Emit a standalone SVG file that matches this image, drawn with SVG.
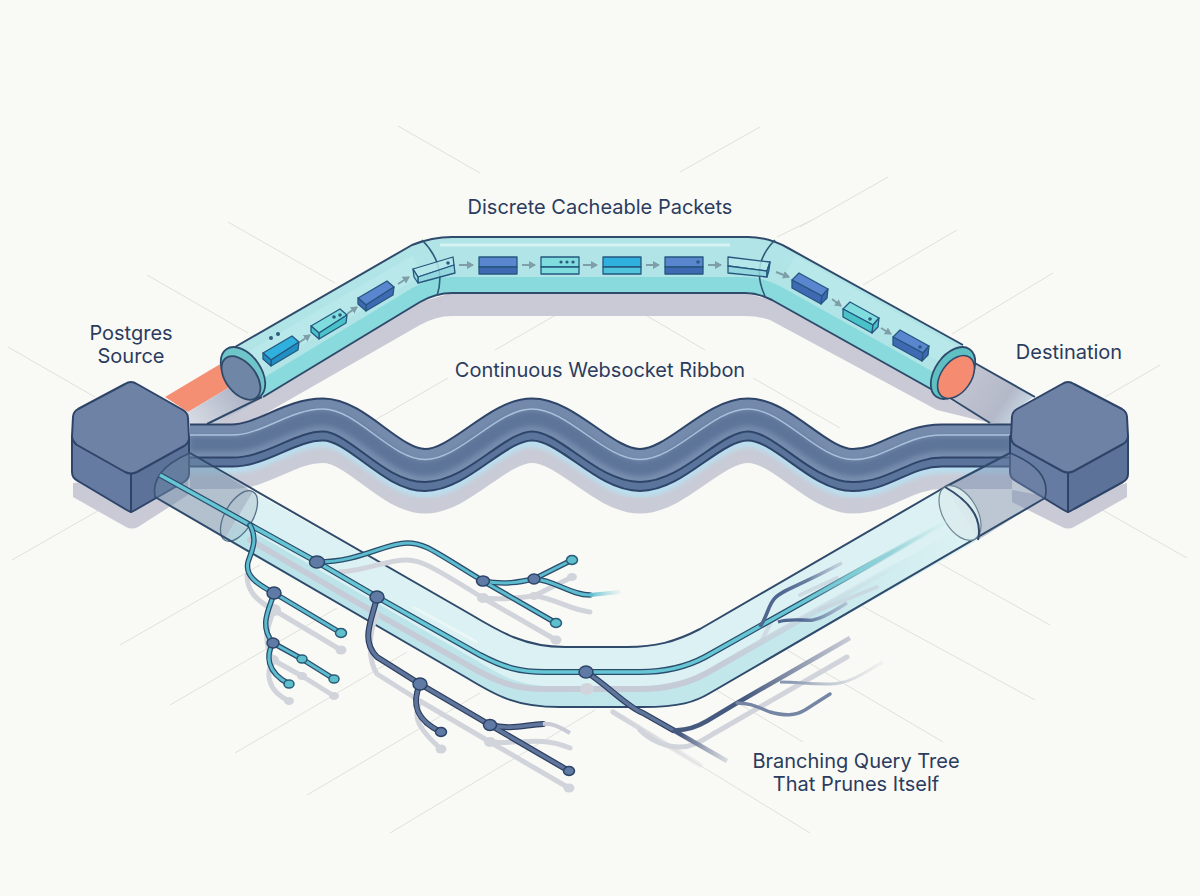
<svg xmlns="http://www.w3.org/2000/svg" width="1200" height="896" viewBox="0 0 1200 896">
<style>
.grid{stroke:#e0e1dd;stroke-width:1;fill:none}
.lbl{font-family:"Inter","Liberation Sans",sans-serif;font-size:20px;fill:#2b3c5e;text-anchor:middle}
.edge{fill:none;stroke:#2f4a6b;stroke-width:2;stroke-linejoin:round}
.hexTop{fill:#6e82a6;stroke:#2d4468;stroke-width:2;stroke-linejoin:round}
.hexSide{fill:#667ba1;stroke:#2d4468;stroke-width:2;stroke-linejoin:round}
.hexDark{fill:#5c7299;stroke:#2d4468;stroke-width:2;stroke-linejoin:round}
.pk{stroke:#25577f;stroke-width:1.3;stroke-linejoin:round}
.blueA{fill:#5a85cf}.blueB{fill:#3f69b3}
.cyanA{fill:#2fb0de}.cyanB{fill:#2090c4}
.tealA{fill:#7fdedd}.tealB{fill:#49c3c8}
.ghostA{fill:#b5e8ea;fill-opacity:.85}.ghostB{fill:#8fd5dc;fill-opacity:.85}
.dot{fill:#2e5a80}
.arr{stroke:#7f9ea8;stroke-width:2;fill:none;marker-end:url(#ah)}
.tOut{fill:none;stroke:#2a4c6c;stroke-width:5.5;stroke-linecap:round;stroke-linejoin:round}
.tIn{fill:none;stroke:#5dbdcf;stroke-width:3;stroke-linecap:round;stroke-linejoin:round}
.dOut{fill:none;stroke:#2c3f60;stroke-width:6;stroke-linecap:round;stroke-linejoin:round}
.dIn{fill:none;stroke:#5f759c;stroke-width:3.6;stroke-linecap:round;stroke-linejoin:round}
.sh{fill:none;stroke:#d2d4dc;stroke-width:5;stroke-linecap:round;stroke-linejoin:round}
.shN{fill:#d2d4dc}
.nodeN{fill:#5f7aa4;stroke:#2c4468;stroke-width:1.5}
.termT{fill:#5dc0cc;stroke:#2a5c78;stroke-width:1.5}
.termD{fill:#5f7aa4;stroke:#2c4468;stroke-width:1.5}
</style>
<defs>
<marker id="ah" markerWidth="8" markerHeight="8" refX="6" refY="4" orient="auto" markerUnits="userSpaceOnUse"><path d="M0,0L7,4L0,8Z" fill="#7f9ea8"/></marker>
<filter id="bl" x="-10%" y="-30%" width="120%" height="160%"><feGaussianBlur stdDeviation="2.5"/></filter>
<linearGradient id="leftBeam" gradientUnits="userSpaceOnUse" x1="190" y1="440" x2="250" y2="390"><stop offset="0" stop-color="#dfe3ea"/><stop offset="1" stop-color="#a9afc2"/></linearGradient>
<linearGradient id="rightBeam" gradientUnits="userSpaceOnUse" x1="955" y1="375" x2="1020" y2="420"><stop offset="0" stop-color="#c4c6d2"/><stop offset=".7" stop-color="#b4b9c9"/><stop offset="1" stop-color="#c9d9e6"/></linearGradient>
<linearGradient id="ribFace" gradientUnits="userSpaceOnUse" x1="0" y1="400" x2="0" y2="490"><stop offset="0" stop-color="#7389ab"/><stop offset="1" stop-color="#7a90b1"/></linearGradient>
<linearGradient id="lowBand" gradientUnits="userSpaceOnUse" x1="200" y1="0" x2="960" y2="0"><stop offset="0" stop-color="#b9e2e8"/><stop offset=".8" stop-color="#c4e8ec"/><stop offset="1" stop-color="#c4e8ec" stop-opacity="0"/></linearGradient>
<linearGradient id="mainOut" gradientUnits="userSpaceOnUse" x1="800" y1="0" x2="940" y2="0"><stop offset="0" stop-color="#2a4c6c"/><stop offset=".4" stop-color="#7fb7c2"/><stop offset="1" stop-color="#d6eeee" stop-opacity="0"/></linearGradient>
<linearGradient id="mainIn" gradientUnits="userSpaceOnUse" x1="800" y1="0" x2="950" y2="0"><stop offset="0" stop-color="#66c6d3"/><stop offset=".6" stop-color="#8fd4da"/><stop offset="1" stop-color="#cfeeee" stop-opacity=".2"/></linearGradient>
<linearGradient id="mainSh" gradientUnits="userSpaceOnUse" x1="720" y1="0" x2="905" y2="0"><stop offset="0" stop-color="#c5ccd8"/><stop offset="1" stop-color="#c5ccd8" stop-opacity="0"/></linearGradient>
<linearGradient id="f1" gradientUnits="userSpaceOnUse" x1="780" y1="0" x2="842" y2="0"><stop offset="0" stop-color="#4f6690"/><stop offset=".45" stop-color="#6a7ea0"/><stop offset="1" stop-color="#b6c3d0" stop-opacity=".6"/></linearGradient>
<linearGradient id="f2" gradientUnits="userSpaceOnUse" x1="800" y1="0" x2="847" y2="0"><stop offset="0" stop-color="#4f6690"/><stop offset="1" stop-color="#a6b3c8" stop-opacity=".7"/></linearGradient>
<linearGradient id="f3" gradientUnits="userSpaceOnUse" x1="745" y1="0" x2="852" y2="0"><stop offset="0" stop-color="#46597f"/><stop offset="1" stop-color="#b4bac9" stop-opacity=".7"/></linearGradient>
<linearGradient id="f4" gradientUnits="userSpaceOnUse" x1="680" y1="0" x2="728" y2="0"><stop offset="0" stop-color="#46597f"/><stop offset="1" stop-color="#c4c8d2" stop-opacity=".6"/></linearGradient>
<linearGradient id="f5" gradientUnits="userSpaceOnUse" x1="790" y1="0" x2="885" y2="0"><stop offset="0" stop-color="#8a99b2"/><stop offset="1" stop-color="#dde0e4" stop-opacity=".3"/></linearGradient>
<linearGradient id="f6" gradientUnits="userSpaceOnUse" x1="590" y1="0" x2="622" y2="0"><stop offset="0" stop-color="#5dbdcf"/><stop offset="1" stop-color="#cdeaee" stop-opacity=".3"/></linearGradient>
<linearGradient id="f8" gradientUnits="userSpaceOnUse" x1="620" y1="0" x2="710" y2="0"><stop offset="0" stop-color="#d2d4dc"/><stop offset="1" stop-color="#d2d4dc" stop-opacity=".2"/></linearGradient>
<clipPath id="topClip"><path d="M235,347 L412,245 Q432,237 452,237 L748,237 Q768,237 788,248 L963,345 L947,398 L772,300 Q758,293 745,293 L452,293 Q436,293 420,302 L263,397Z"/></clipPath>
<clipPath id="botClip"><path d="M253,492 L470,614 C500,632 525,647 565,647 L627,647 C655,647 675,642 700,629 L945,487 L978,540 L710,693 C695,702 680,707 643,707 L560,707 C515,707 495,695 467,678 L225,539Z"/></clipPath>
<path id="rib" d="M190,441 H232 C262,441 290,415 323,415 C357,415 391,465.5 425,465.5 C460,465.5 497,415 532,415 C568,415 604,465.5 640,465.5 C676,465.5 712,415 748,415 C783,415 818,465.5 853,465.5 C885,465.5 905,441 942,441 H1012"/>
</defs>
<rect width="1200" height="896" fill="#f9f9f5"/>
<g id="grid">
<path class="grid" d="M398,126L480,173M760,127L680,172M888,177L800,227M228,222L335,283M147,275L248,333M8,347L95,397M448,378L375,420M582,300L495,350M620,300L705,350M753,378L840,428M812,220L777,237M957,230L863,285M1053,273L952,334M1160,365L1105,397M1090,503L1187,558M108,505L12,560M260,565L120,645M337,608L170,705M407,652L235,753M480,693L307,795M595,710L390,833M937,562L1050,625M860,605L1035,700M787,650L943,742M713,688L803,742M610,710L810,833"/>
</g>
<g id="top-tube-shadow">
<path d="M250,402 L420,302 L452,293 L745,293 L772,300 L947,398 L1000,428 L1010,440 L990,423 L937,410 L770,320 Q758,316 745,316 L452,316 Q436,316 420,325 L240,428 L188,428Z" fill="#c9cad6"/>
</g>
<g id="connectors">
<g id="beams">
<path d="M165,397 L222,363 L230,387 L188,412 Z" fill="#f58f74"/>
<path d="M188,412 L230,387 L262,398 L207,430 L188,430Z" fill="url(#leftBeam)"/>
<path d="M973,362 L1035,396 L1012,412 L1011,426 L990,423 L950,398 Z" fill="url(#rightBeam)"/>
<path class="edge" d="M973,362 L1035,397M950,398 L990,423M207,424 L262,397"/>
</g>
<g id="top-tube">
<path d="M235,347 L412,245 Q432,237 452,237 L748,237 Q768,237 788,248 L963,345 L947,398 L772,300 Q758,293 745,293 L452,293 Q436,293 420,302 L263,397Z" fill="#b0e4e6"/>
<g clip-path="url(#topClip)">
<path d="M263,397 L420,302 Q436,293 452,293 L745,293 Q758,293 772,300 L947,398" fill="none" stroke="#88dadd" stroke-width="32"/>
<path d="M440,245 H730" fill="none" stroke="#d6f2f2" stroke-width="3"/>
<path d="M252,362 L418,265" fill="none" stroke="#b8e8e9" stroke-width="22"/>
<path d="M790,265 L950,355" fill="none" stroke="#b8e8e9" stroke-width="22"/>
</g>
<path class="edge" d="M235,347 L412,245 Q432,237 452,237 L748,237 Q768,237 788,248 L963,345"/>
<path class="edge" d="M263,397 L420,302 Q436,293 452,293 L745,293 Q758,293 772,300 L947,398"/>
<path d="M422,240 Q447,265 437,296" fill="none" stroke="#2f5a78" stroke-width="1.6"/>
<path d="M775,240 Q750,265 765,296" fill="none" stroke="#2f5a78" stroke-width="1.6"/>
<ellipse cx="243" cy="373" rx="29" ry="18" transform="rotate(55 243 373)" fill="#6fc6ca" stroke="#2f4a6b" stroke-width="1.8"/>
<ellipse cx="241" cy="378" rx="25" ry="15" transform="rotate(52 241 378)" fill="#6f86a6" stroke="#2f4a6b" stroke-width="1.8"/>
<ellipse cx="953" cy="373" rx="29" ry="18" transform="rotate(-55 953 373)" fill="#5fc0c4" stroke="#2f4a6b" stroke-width="1.8"/>
<ellipse cx="956" cy="377" rx="24" ry="15" transform="rotate(-55 956 377)" fill="#f58c72" stroke="#2f4a6b" stroke-width="1.6"/>
</g>
<g id="ribbon">
<use href="#rib" transform="translate(0,29)" fill="none" stroke="#c9cbd6" stroke-width="38"/>
<use href="#rib" transform="translate(0,17)" fill="none" stroke="#b9dff0" stroke-width="30" filter="url(#bl)"/>
<use href="#rib" transform="translate(0,9)" fill="none" stroke="#2e4468" stroke-width="35"/>
<use href="#rib" transform="translate(0,9)" fill="none" stroke="#5a749b" stroke-width="31"/>
<use href="#rib" fill="none" stroke="#2e4468" stroke-width="35"/>
<use href="#rib" fill="none" stroke="url(#ribFace)" stroke-width="31"/>
<use href="#rib" transform="translate(0,3)" fill="none" stroke="#5d7499" stroke-width="15" filter="url(#bl)"/>
<use href="#rib" transform="translate(0,-6)" fill="none" stroke="#a9c2dc" stroke-width="1.5"/>
</g>
</g>
<g id="hex-shadows">
<path d="M73,483 L73,497 L126,527 Q132,530 138,527 L188,495 L188,470 Z" fill="#c9cad6"/>
<path d="M1012,490 L1012,502 L1062,527 Q1068,530 1074,527 L1127,497 L1127,483 L1068,500Z" fill="#c9cad6"/>
</g>
<g id="postgres-source">
<path class="hexSide" d="M72,436 L72,472 Q72,478 78,481 L125,509 Q128,511 131,512 L131,474Z"/>
<path class="hexDark" d="M131,474 L131,512 Q134,511 137,509 L184,482 Q189,479 189,474 L189,438Z"/>
<path class="hexTop" d="M125,384 Q131,380 137,384 L183,410 Q188,413 188,418 L189,438 Q189,443 184,446 L137,472 Q131,475 125,472 L77,445 Q72,441 72,436 L73,417 Q73,412 78,409Z"/>
<text class="lbl" x="131" y="340">Postgres</text>
<text class="lbl" x="131" y="363">Source</text>
</g>
<g id="destination">
<path class="hexSide" d="M1010,436 L1010,472 Q1010,478 1016,481 L1062,509 Q1065,511 1068,512 L1068,473Z"/>
<path class="hexDark" d="M1068,473 L1068,512 Q1071,511 1074,509 L1123,482 Q1128,479 1128,474 L1128,436Z"/>
<path class="hexTop" d="M1062,384 Q1068,380 1074,384 L1122,409 Q1127,412 1127,417 L1128,436 Q1128,441 1123,444 L1074,471 Q1068,474 1062,471 L1015,445 Q1011,442 1011,437 L1012,417 Q1012,412 1017,409Z"/>
<text class="lbl" x="1069" y="359">Destination</text>
</g>
<g id="packets">
<g id="packet-1"><polygon class="pk cyanA" points="263,353 292,336 299,342 271,360"/><polygon class="pk cyanB" points="271,360 299,342 298,350 271,366"/><polygon class="pk cyanB" points="263,353 271,360 271,366 263,359"/><circle class="dot" cx="271" cy="338" r="2"/><circle class="dot" cx="278" cy="334" r="2"/></g>
<g id="packet-2"><polygon class="pk tealA" points="311,326 340,309 347,315 319,333"/><polygon class="pk tealB" points="319,333 347,315 346,323 319,339"/><polygon class="pk tealB" points="311,326 319,333 319,339 311,332"/><circle class="dot" cx="334" cy="317" r="1.8"/><circle class="dot" cx="340" cy="315" r="1.8"/></g>
<g id="packet-3"><polygon class="pk blueA" points="358,298 387,281 394,287 366,305"/><polygon class="pk blueB" points="366,305 394,287 393,295 366,311"/><polygon class="pk blueB" points="358,298 366,305 366,311 358,304"/></g>
<g id="packet-4"><polygon class="pk ghostA" points="413,269 453,257 454,265 418,277"/><polygon class="pk ghostB" points="418,277 454,265 455,273 418,283"/><polygon class="pk ghostB" points="413,269 418,277 418,283 414,277"/><circle class="dot" cx="448" cy="263" r="1.8"/></g>
<g id="packet-5"><rect class="pk blueA" x="479" y="257" width="38" height="10"/><rect class="pk blueB" x="479" y="267" width="38" height="7"/></g>
<g id="packet-6"><rect class="pk tealA" x="541" y="257" width="38" height="10"/><rect class="pk tealA" x="541" y="267" width="38" height="7"/><circle class="dot" cx="561" cy="262" r="1.6"/><circle class="dot" cx="567" cy="262" r="1.6"/><circle class="dot" cx="573" cy="262" r="1.6"/></g>
<g id="packet-7"><rect class="pk cyanA" x="603" y="257" width="38" height="10"/><rect class="pk cyanA" x="603" y="267" width="38" height="7" style="fill:#4fc4dc"/></g>
<g id="packet-8"><rect class="pk blueA" x="665" y="257" width="38" height="10"/><rect class="pk blueB" x="665" y="267" width="38" height="7"/><circle class="dot" cx="698" cy="262" r="1.8"/></g>
<g id="packet-9"><polygon class="pk ghostA" points="728,257 770,262 767,271 728,266"/><polygon class="pk ghostB" points="728,266 767,271 767,277 728,273"/><polygon class="pk ghostB" points="770,262 767,271 767,277 769,270"/></g>
<g id="packet-10"><polygon class="pk blueA" points="799,273 828,289 822,296 792,280"/><polygon class="pk blueB" points="792,280 822,296 821,304 792,288"/><polygon class="pk blueB" points="822,296 828,289 827,298 821,304"/></g>
<g id="packet-11"><polygon class="pk tealA" points="850,302 879,318 873,325 843,309"/><polygon class="pk tealB" points="843,309 873,325 872,333 843,317"/><polygon class="pk tealB" points="873,325 879,318 878,327 872,333"/><circle class="dot" cx="870" cy="319" r="1.8"/></g>
<g id="packet-12"><polygon class="pk blueA" points="900,330 929,346 923,353 893,337"/><polygon class="pk blueB" points="893,337 923,353 922,361 893,345"/><polygon class="pk blueB" points="923,353 929,346 928,355 922,361"/><circle class="dot" cx="920" cy="347" r="1.8"/></g>
</g>
<g id="packet-arrows">
<path class="arr" d="M300,342L310,335"/><path class="arr" d="M347,314L357,307"/><path class="arr" d="M398,284L409,277"/><path class="arr" d="M459,265H473"/><path class="arr" d="M522,265H535"/><path class="arr" d="M583,265H597"/><path class="arr" d="M646,265H659"/><path class="arr" d="M708,265H721"/><path class="arr" d="M776,272L789,277"/><path class="arr" d="M832,299L841,306"/><path class="arr" d="M881,328L891,334"/>
</g>
<g id="query-tube">
<path d="M190,453 Q150,470 155,497 L225,539 L253,492Z" fill="#6d8aa8" fill-opacity=".5"/>
<path d="M945,487 L1010,453 Q1052,470 1045,498 L978,540Z" fill="#7488aa" fill-opacity=".45"/>
<path d="M253,492 L470,614 C500,632 525,647 565,647 L627,647 C655,647 675,642 700,629 L945,487 L978,540 L710,693 C695,702 680,707 643,707 L560,707 C515,707 495,695 467,678 L225,539Z" fill="#d8f0f2" fill-opacity=".92"/>
<g clip-path="url(#botClip)">
<path d="M225,539 L467,678 C495,695 515,707 560,707 L643,707 C680,707 695,702 710,693 L978,540" fill="none" stroke="url(#lowBand)" stroke-width="40"/>
<path d="M413,607 L477,642" fill="none" stroke="#eaf7f7" stroke-width="3"/>
</g>
<path d="M190,453 Q150,470 155,497" fill="none" stroke="#3b5575" stroke-width="1.6"/>
<path d="M1010,453 Q1052,470 1045,498" fill="none" stroke="#2f4a6b" stroke-width="1.6"/>
<ellipse cx="239" cy="516" rx="28" ry="14" transform="rotate(-60 239 516)" fill="#aebfcb" fill-opacity=".45" stroke="#56708a" stroke-width="1.3"/>
<path class="edge" d="M190,453 L470,614 C500,632 525,647 565,647 L627,647 C655,647 675,642 700,629 L945,487 L1010,453"/>
<path class="edge" d="M155,497 L467,678 C495,695 515,707 560,707 L643,707 C680,707 695,702 710,693 L1045,498"/>
<ellipse cx="960" cy="513" rx="30" ry="17" transform="rotate(60 960 513)" fill="#dcecee" fill-opacity=".9" stroke="#6d8794" stroke-width="1.2"/>
<path class="edge" d="M945,487 Q985,510 978,540" stroke-width="1.6"/>
</g>
<g id="tree-shadows">
<path d="M250,540 L317,579 L377,614 L480,672 C505,685 520,689 545,689 L640,689 C670,689 690,682 705,674 L900,563" fill="none" stroke="url(#mainSh)" stroke-width="6" stroke-linecap="round"/>
<path d="M800,595 L837,578M820,610 L877,587M762,640 L772,620" fill="none" stroke="#c9d2dc" stroke-width="4" stroke-linecap="round" stroke-opacity=".7"/>
<path class="sh" d="M274,610 C255,600 247,590 247,575 M274,610 L341,650 M274,610 C268,625 262,640 273,660 L302,676 L334,696 M273,660 C266,672 266,690 289,701"/>
<path class="sh" d="M340,572 C370,570 385,560 407,560 C420,560 430,565 483,598 L556,640 M483,598 C505,600 520,598 534,596 L572,577 M534,596 C555,598 570,610 590,612"/>
<path class="sh" d="M377,614 C368,635 368,660 377,674 L420,701 C414,715 414,725 441,749 M420,701 L490,742 L569,788 M490,742 C515,745 540,735 570,748"/>
<path class="sh" d="M640,730 C650,740 665,747 680,747 C695,747 705,738 720,730 L847,657"/>
<path d="M613,712 L700,765" fill="none" stroke="url(#f8)" stroke-width="5" stroke-linecap="round"/>
<ellipse class="shN" cx="274" cy="610" rx="7" ry="6"/><ellipse class="shN" cx="341" cy="650" rx="5.5" ry="4.5"/><ellipse class="shN" cx="273" cy="660" rx="6" ry="5"/><ellipse class="shN" cx="302" cy="676" rx="5" ry="4"/><ellipse class="shN" cx="334" cy="696" rx="5" ry="4"/><ellipse class="shN" cx="289" cy="701" rx="5" ry="4"/><ellipse class="shN" cx="483" cy="598" rx="6" ry="5"/><ellipse class="shN" cx="534" cy="596" rx="5" ry="4"/><ellipse class="shN" cx="556" cy="640" rx="5.5" ry="4.5"/><ellipse class="shN" cx="572" cy="577" rx="5" ry="4"/><ellipse class="shN" cx="441" cy="749" rx="5.5" ry="4.5"/><ellipse class="shN" cx="490" cy="742" rx="6" ry="5"/><ellipse class="shN" cx="569" cy="788" rx="5.5" ry="4.5"/><ellipse class="shN" cx="587" cy="689" rx="7" ry="6"/>
</g>
<g id="query-tree">
<g id="tree-main">
<path d="M160,475 L317,562 L377,597 L480,655 C505,668 520,672 545,672 L640,672 C670,672 690,665 705,657 L953,518" fill="none" stroke="url(#mainOut)" stroke-width="6"/>
<path d="M160,475 L317,562 L377,597 L480,655 C505,668 520,672 545,672 L640,672 C670,672 690,665 705,657 L953,518" fill="none" stroke="url(#mainIn)" stroke-width="3.6"/>
</g>
<g id="branch-a">
<path class="tOut" d="M250,525 C258,540 252,550 248,562 C245,575 255,583 274,593 L341,633"/><path class="tOut" d="M274,593 C270,608 258,625 273,643 L302,659 L334,679"/><path class="tOut" d="M273,643 C266,655 266,672 289,684"/>
<path class="tIn" d="M250,525 C258,540 252,550 248,562 C245,575 255,583 274,593 L341,633"/><path class="tIn" d="M274,593 C270,608 258,625 273,643 L302,659 L334,679"/><path class="tIn" d="M273,643 C266,655 266,672 289,684"/>
<ellipse class="nodeN" cx="274" cy="593" rx="7" ry="6"/><ellipse class="termT" cx="341" cy="633" rx="5.5" ry="4.5"/><ellipse class="nodeN" cx="273" cy="643" rx="6" ry="5"/><ellipse class="termT" cx="302" cy="659" rx="5" ry="4"/><ellipse class="termT" cx="334" cy="679" rx="5" ry="4"/><ellipse class="termT" cx="289" cy="684" rx="5" ry="4"/>
</g>
<g id="branch-b">
<path class="tOut" d="M317,562 C360,562 385,543 407,543 C425,543 432,550 483,581 L556,623"/><path class="tOut" d="M483,581 C505,585 520,582 534,579 L572,560"/><path class="tOut" d="M534,579 C555,580 570,595 590,595"/>
<path class="tIn" d="M317,562 C360,562 385,543 407,543 C425,543 432,550 483,581 L556,623"/><path class="tIn" d="M483,581 C505,585 520,582 534,579 L572,560"/><path class="tIn" d="M534,579 C555,580 570,595 590,595"/>
<path d="M590,595 L620,592" fill="none" stroke="url(#f6)" stroke-width="4"/>
<ellipse class="nodeN" cx="317" cy="562" rx="7.5" ry="6"/><ellipse class="nodeN" cx="483" cy="581" rx="6.5" ry="5"/><ellipse class="nodeN" cx="534" cy="579" rx="6" ry="5"/><ellipse class="termT" cx="556" cy="623" rx="5.5" ry="4.5"/><ellipse class="termT" cx="572" cy="560" rx="5.5" ry="4.5"/>
</g>
<g id="branch-c">
<path class="dOut" d="M377,597 C372,620 360,640 377,657 L420,684 C413,700 412,718 441,732"/><path class="dOut" d="M420,684 L490,725 L569,771"/><path class="dOut" d="M490,725 C510,730 525,725 543,724"/>
<path class="dIn" d="M377,597 C372,620 360,640 377,657 L420,684 C413,700 412,718 441,732"/><path class="dIn" d="M420,684 L490,725 L569,771"/><path class="dIn" d="M490,725 C510,730 525,725 543,724"/>
<path d="M543,724 C552,723 560,727 570,733" fill="none" stroke="#c9ccd6" stroke-width="4"/>
<ellipse class="nodeN" cx="377" cy="597" rx="7" ry="6"/><ellipse class="nodeN" cx="420" cy="684" rx="7" ry="6"/><ellipse class="termD" cx="441" cy="732" rx="5.5" ry="4.5"/><ellipse class="nodeN" cx="490" cy="725" rx="6.5" ry="5.5"/><ellipse class="termD" cx="569" cy="771" rx="5.5" ry="4.5"/>
</g>
<g id="branch-d">
<path class="dOut" d="M586,672 C605,683 628,708 643,713 L673,730" stroke-width="5"/>
<path class="dIn" d="M586,672 C605,683 628,708 643,713 L673,730" stroke-width="3"/>
<path d="M673,730 L727,761" fill="none" stroke="url(#f4)" stroke-width="4.5"/>
<path d="M673,730 C685,731 695,728 707,721 L737,703 L850,638" fill="none" stroke="url(#f3)" stroke-width="4.5"/>
<path d="M737,703 C750,703 755,706 770,712 C785,716 795,716 805,710 L830,694" fill="none" stroke="#7486a4" stroke-width="3.4" stroke-linecap="round"/>
<path d="M780,682 C800,682 825,686 840,683 C855,680 865,672 883,662" fill="none" stroke="url(#f5)" stroke-width="3"/>
<ellipse class="nodeN" cx="586" cy="672" rx="7" ry="6"/>
</g>
<g id="branch-e">
<path d="M760,627 C768,615 768,605 775,598 C782,590 795,588 842,563" fill="none" stroke="url(#f1)" stroke-width="3.6"/>
<path d="M778,622 C790,618 805,621 813,620 C825,618 835,610 847,603" fill="none" stroke="url(#f2)" stroke-width="3.4"/>
</g>
</g>
<g id="labels">
<text class="lbl" x="600" y="214">Discrete Cacheable Packets</text>
<text class="lbl" x="600" y="377">Continuous Websocket Ribbon</text>
<text class="lbl" x="856" y="768">Branching Query Tree</text>
<text class="lbl" x="856" y="791">That Prunes Itself</text>
</g>
</svg>
